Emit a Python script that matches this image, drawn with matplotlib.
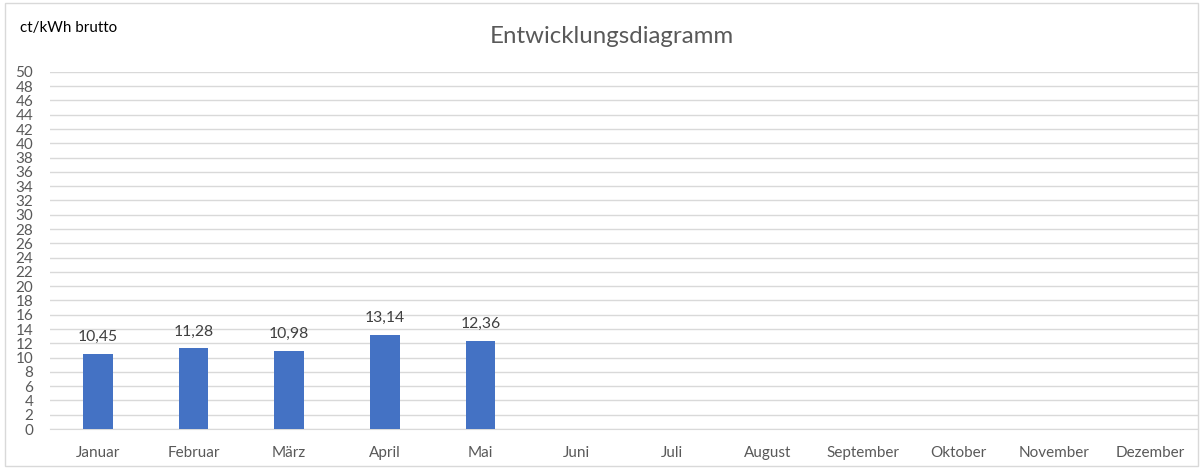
import numpy as np
import matplotlib
matplotlib.use('Agg')
import matplotlib.pyplot as plt
from matplotlib.patches import Rectangle

plt.rcParams['font.family'] = ['Lato', 'DejaVu Sans']

months = ['Januar', 'Februar', 'März', 'April', 'Mai', 'Juni', 'Juli',
          'August', 'September', 'Oktober', 'November', 'Dezember']
prices = [10.45, 11.28, 10.98, 13.14, 12.36]
yticks = np.arange(0, 51, 2)

fig = plt.figure(figsize=(12.04, 4.70), dpi=100)
ax = fig.add_axes([0.0415, 0.0872, 0.9535, 0.7598])

# frame round the whole chart, like excel
fig.patches.append(Rectangle((0.004, 0.008), 0.991, 0.985, transform=fig.transFigure,
                             fill=False, edgecolor='#D9D9D9', linewidth=1))

x = np.arange(len(months))
bars = ax.bar(x[:len(prices)], prices, width=0.31, color='#4472C4', zorder=3)
for b, v in zip(bars, prices):
    ax.text(b.get_x() + b.get_width() / 2, v + 1.4, f'{v:.2f}'.replace('.', ','),
            ha='center', va='bottom', fontsize=11.3, color='#404040')

ax.set_xlim(-0.5, len(months) - 0.5)
ax.set_ylim(0, 50)
ax.set_xticks(x)
ax.set_xticklabels(months)
ax.set_yticks(yticks)
ax.tick_params(axis='both', length=0, labelsize=11, colors='#595959')
ax.tick_params(axis='x', pad=12)
ax.tick_params(axis='y', pad=12)
ax.grid(axis='y', color='#D9D9D9', linewidth=1, zorder=0)
for s in ['top', 'right', 'left']:
    ax.spines[s].set_visible(False)
ax.spines['bottom'].set_color('#D9D9D9')

fig.text(0.508, 0.922, 'Entwicklungsdiagramm', ha='center', va='center',
         fontsize=17.3, color='#595959')
fig.text(0.017, 0.94, 'ct/kWh brutto', ha='left', va='center', fontsize=10.9, color='black')

fig.savefig('out.png', dpi=100)
